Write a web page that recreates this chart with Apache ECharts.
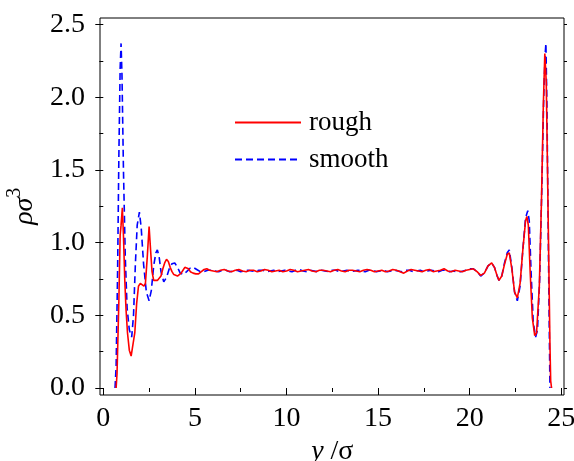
<!DOCTYPE html>
<html>
<head>
<meta charset="utf-8">
<script src="https://cdn.jsdelivr.net/npm/echarts@6/dist/echarts.min.js"></script>
<style>html,body{margin:0;padding:0;background:#fff}#c{width:574px;height:461px}</style>
</head>
<body>
<div id="c"></div>
<script>
// ---- data ----
var xTicks = [0, 5, 10, 15, 20, 25];
var yTicks = [0.0, 0.5, 1.0, 1.5, 2.0, 2.5];

var roughX = [0.70,0.75,0.85,0.92,0.97,1.04,1.10,1.17,1.24,1.32,1.42,1.52,1.62,1.72,1.82,1.92,2.02,2.12,2.22,2.30,2.40,2.50,2.58,2.66,2.75,2.85,2.95,3.05,3.15,3.25,3.35,3.45,3.55,3.65,3.75,3.85,3.95,4.05,4.15,4.25,4.35,4.45,4.55,4.65,4.75,4.90,5.05,5.20,5.35,5.50,5.65,5.80,
 6.0,6.2,6.4,6.6,6.8,7.0,7.2,7.4,7.6,7.8,8.0,8.2,8.4,8.6,8.8,9.0,9.2,9.4,9.6,9.8,10.0,10.2,10.4,10.6,10.8,11.0,11.2,11.4,11.6,11.8,12.0,12.2,12.4,12.6,12.8,13.0,13.2,13.4,13.6,13.8,14.0,14.2,14.4,14.6,14.8,15.0,15.2,15.4,15.6,15.8,16.0,16.2,16.4,16.6,16.8,17.0,17.2,17.4,17.6,17.8,18.0,18.2,18.4,18.6,18.8,19.0,19.2,19.4,
 19.6,19.8,20.0,20.2,20.4,20.6,20.8,21.0,21.2,21.35,21.5,21.6,21.75,21.9,22.05,22.16,22.3,22.45,22.6,22.75,22.9,23.05,23.12,23.2,23.3,23.42,23.55,23.65,23.8,23.92,24.02,24.1,24.18,24.28,24.38,24.42,24.47];
var roughY = [0.00,0.10,0.60,1.05,1.12,1.24,1.05,0.75,0.54,0.38,0.26,0.22,0.23,0.38,0.58,0.70,0.72,0.72,0.70,0.72,0.90,1.11,0.95,0.80,0.74,0.73,0.74,0.75,0.77,0.82,0.86,0.885,0.87,0.83,0.80,0.78,0.77,0.77,0.775,0.79,0.81,0.83,0.83,0.82,0.80,0.79,0.785,0.785,0.80,0.815,0.82,0.81,
 0.805,0.80,0.81,0.815,0.805,0.80,0.81,0.815,0.805,0.80,0.81,0.81,0.80,0.805,0.815,0.81,0.80,0.805,0.81,0.80,0.805,0.815,0.81,0.80,0.805,0.81,0.815,0.805,0.80,0.81,0.81,0.805,0.80,0.81,0.815,0.805,0.80,0.81,0.81,0.805,0.80,0.81,0.815,0.81,0.80,0.805,0.81,0.80,0.805,0.815,0.81,0.80,0.79,0.805,0.815,0.81,0.805,0.80,0.81,0.815,0.80,0.805,0.81,0.82,0.805,0.80,0.81,0.805,
 0.80,0.81,0.815,0.82,0.80,0.775,0.79,0.84,0.86,0.83,0.77,0.74,0.77,0.85,0.92,0.93,0.82,0.66,0.62,0.72,0.95,1.15,1.18,1.12,0.80,0.48,0.36,0.38,0.70,1.30,1.95,2.30,2.10,1.20,0.30,0.05,0.00];

var smoothX = [0.64,0.70,0.78,0.85,0.92,0.97,1.02,1.10,1.20,1.30,1.42,1.55,1.65,1.75,1.85,1.97,2.07,2.20,2.35,2.50,2.62,2.75,2.87,2.95,3.05,3.15,3.30,3.45,3.60,3.75,3.90,4.05,4.20,4.37,4.55,4.75,4.90,5.10,5.30,5.50,5.70,
 5.9,6.1,6.3,6.5,6.7,6.9,7.1,7.3,7.5,7.7,7.9,8.1,8.3,8.5,8.7,8.9,9.1,9.3,9.5,9.7,9.9,10.1,10.3,10.5,10.7,10.9,11.1,11.3,11.5,11.7,11.9,12.1,12.3,12.5,12.7,12.9,13.1,13.3,13.5,13.7,13.9,14.1,14.3,14.5,14.7,14.9,15.1,15.3,15.5,15.7,15.9,16.1,16.3,16.5,16.7,16.9,17.1,17.3,17.5,17.7,17.9,18.1,18.3,18.5,18.7,18.9,19.1,19.3,
 19.5,19.8,20.0,20.2,20.4,20.6,20.8,21.0,21.2,21.35,21.5,21.6,21.75,21.9,22.05,22.16,22.3,22.45,22.6,22.75,22.9,23.05,23.17,23.25,23.35,23.47,23.6,23.7,23.82,23.95,24.05,24.12,24.16,24.22,24.30,24.38];
var smoothY = [0.00,0.15,0.80,1.60,2.20,2.37,2.15,1.50,0.90,0.55,0.40,0.35,0.50,0.85,1.12,1.21,1.10,0.85,0.66,0.60,0.67,0.84,0.93,0.95,0.90,0.80,0.73,0.76,0.82,0.855,0.86,0.83,0.79,0.78,0.80,0.825,0.83,0.815,0.80,0.80,0.81,
 0.81,0.805,0.80,0.81,0.81,0.80,0.805,0.81,0.80,0.805,0.81,0.805,0.80,0.81,0.81,0.80,0.805,0.81,0.80,0.805,0.81,0.805,0.80,0.81,0.815,0.805,0.80,0.81,0.805,0.80,0.81,0.805,0.80,0.81,0.81,0.80,0.805,0.81,0.80,0.805,0.81,0.805,0.80,0.81,0.81,0.80,0.805,0.81,0.80,0.805,0.81,0.805,0.80,0.81,0.81,0.80,0.805,0.81,0.80,0.805,0.81,0.805,0.80,0.81,0.81,0.80,0.805,0.80,
 0.80,0.81,0.82,0.82,0.80,0.77,0.79,0.84,0.86,0.83,0.77,0.74,0.77,0.86,0.93,0.95,0.83,0.66,0.60,0.70,0.95,1.17,1.22,1.15,0.80,0.45,0.35,0.40,0.75,1.45,2.05,2.30,2.37,1.90,0.90,0.00];

var seriesNames = ['rough', 'smooth'];

function pairs(xs, ys) { return xs.map(function (x, i) { return [x, ys[i]]; }); }

var FONT = '"Liberation Serif", "Times New Roman", serif';
var chart = echarts.init(document.getElementById('c'), null, {renderer: 'canvas'});
chart.setOption({
  animation: false,
  backgroundColor: '#fff',
  textStyle: {fontFamily: FONT, color: '#000'},
  grid: [
    {left: 103.3, right: 12.7, top: 24.5, bottom: 73, show: false, containLabel: false, outerBoundsMode: 'none'},
    {left: 100, right: 10, top: 18, bottom: 66, show: true, borderColor: '#000', borderWidth: 1, backgroundColor: 'transparent', containLabel: false, outerBoundsMode: 'none'}
  ],
  legend: {
    orient: 'vertical',
    left: 229, top: 104,
    itemWidth: 66, itemHeight: 18, itemGap: 10,
    itemStyle: {color: 'transparent', borderWidth: 0, opacity: 0},
    textStyle: {fontFamily: FONT, fontSize: 27, color: '#000', padding: [0,0,0,3], lineHeight: 26},
    data: seriesNames
  },
  xAxis: [
    {
      gridIndex: 0, type: 'value', min: xTicks[0], max: xTicks[xTicks.length - 1], interval: 5,
      offset: 7,
      axisLine: {show: false},
      axisTick: {show: true, inside: false, length: 7, lineStyle: {color: '#000', width: 1}},
      minorTick: {show: true, splitNumber: 2, length: 4, lineStyle: {color: '#000', width: 1}},
      axisLabel: {fontFamily: FONT, fontSize: 28, color: '#000', margin: 10},
      splitLine: {show: false},
      name: '{i|y} /σ', nameLocation: 'middle', nameGap: 41,
      nameTextStyle: {fontFamily: FONT, fontSize: 28, color: '#000', rich: {i: {fontFamily: FONT, fontSize: 28, fontStyle: 'italic'}}}
    },
    {gridIndex: 1, type: 'value', min: 0, max: 1, show: false}
  ],
  yAxis: [
    {
      gridIndex: 0, type: 'value', min: yTicks[0], max: yTicks[yTicks.length - 1], interval: 0.5,
      offset: 3.3,
      axisLine: {show: false},
      axisTick: {show: true, inside: false, length: 8, lineStyle: {color: '#000', width: 1}},
      minorTick: {show: true, splitNumber: 2, length: 4, lineStyle: {color: '#000', width: 1}},
      axisLabel: {fontFamily: FONT, fontSize: 28, color: '#000', margin: 15, formatter: function (v) { return v.toFixed(1); }},
      splitLine: {show: false},
      name: '{i|ρσ}{s|3}', nameLocation: 'middle', nameGap: 48, nameRotate: 90,
      nameTextStyle: {fontFamily: FONT, fontSize: 28, color: '#000',
        rich: {i: {fontFamily: FONT, fontSize: 28, fontStyle: 'italic', lineHeight: 34, verticalAlign: 'bottom'},
               s: {fontFamily: FONT, fontSize: 20, lineHeight: 34, verticalAlign: 'top'}}}
    },
    {
      gridIndex: 0, type: 'value', position: 'right', min: 0, max: 2.5, interval: 0.25, offset: 2.7,
      axisLine: {show: false},
      axisTick: {show: true, inside: false, length: 3, lineStyle: {color: '#000', width: 1}},
      axisLabel: {show: false}, splitLine: {show: false}
    },
    {gridIndex: 1, type: 'value', min: 0, max: 1, show: false}
  ],
  series: [
    {
      name: seriesNames[0], type: 'line', xAxisIndex: 0, yAxisIndex: 0,
      data: pairs(roughX, roughY), symbol: 'none', smooth: false,
      lineStyle: {color: '#ff0000', width: 1.6}, itemStyle: {color: '#ff0000'}, z: 3
    },
    {
      name: seriesNames[1], type: 'line', xAxisIndex: 0, yAxisIndex: 0,
      data: pairs(smoothX, smoothY), symbol: 'none', smooth: false,
      lineStyle: {color: '#0000ff', width: 1.6, type: [7, 4]}, itemStyle: {color: '#0000ff'}, z: 2
    }
  ]
});
</script>
</body>
</html>
